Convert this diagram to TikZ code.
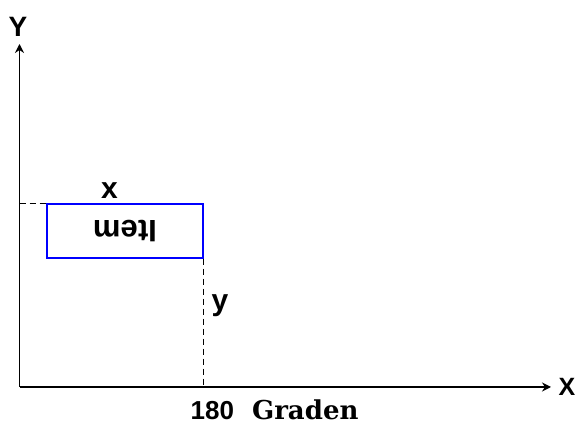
\documentclass[tikz,border=0pt]{standalone}
\usepackage{fontspec}
\setmainfont{Liberation Sans}
\newfontfamily\gradenfont{DejaVu Serif}
\usetikzlibrary{arrows.meta}
\begin{document}
\begin{tikzpicture}[x=1pt,y=1pt]

\def\ITEMCOLOR{blue}
\tikzset{axis/.style={line width=1.5pt,-{Stealth[length=9pt,width=9pt,inset=3pt]}},
	guide/.style={line width=1pt,dash pattern=on 6pt off 4pt},
	lab/.style={inner sep=0pt,font=\bfseries\fontsize{#1}{#1}\selectfont},
	lab/.default=30}
	\useasboundingbox (0,0) rectangle (578,425);
	\coordinate (O) at (19.5,38);
	\coordinate (ytip) at (19.5,381);
	\coordinate (xtip) at (551,38);
	\node[lab=28] (Ylab) at (18,398) {Y};
	\node[lab=25] (Xlab) at (567,38) {X};
	\draw[axis] (O) -- (ytip);
	\draw[axis] (O) -- (xtip);
	\node[draw=\ITEMCOLOR,line width=1.2pt,minimum width=156,minimum height=54,inner sep=0pt,
		font=\bfseries\fontsize{31}{31}\selectfont,rotate=180] (item) at (125,194) {Item};
	\node[lab,anchor=base] (xlab) at (109.5,226) {x};
	\node[lab,anchor=base] (ylab) at (220,114) {y};
	\draw[guide] (O |- item.south west) -- (item.south east);
	\draw[guide] (item.north west) -- (item.north west |- O);
	\node[lab=26,anchor=base west] (grad) at (190.5,5) {180\hspace{18pt}{\gradenfont\bfseries\fontsize{26}{26}\selectfont Graden}};

          \end{tikzpicture}
\end{document}
